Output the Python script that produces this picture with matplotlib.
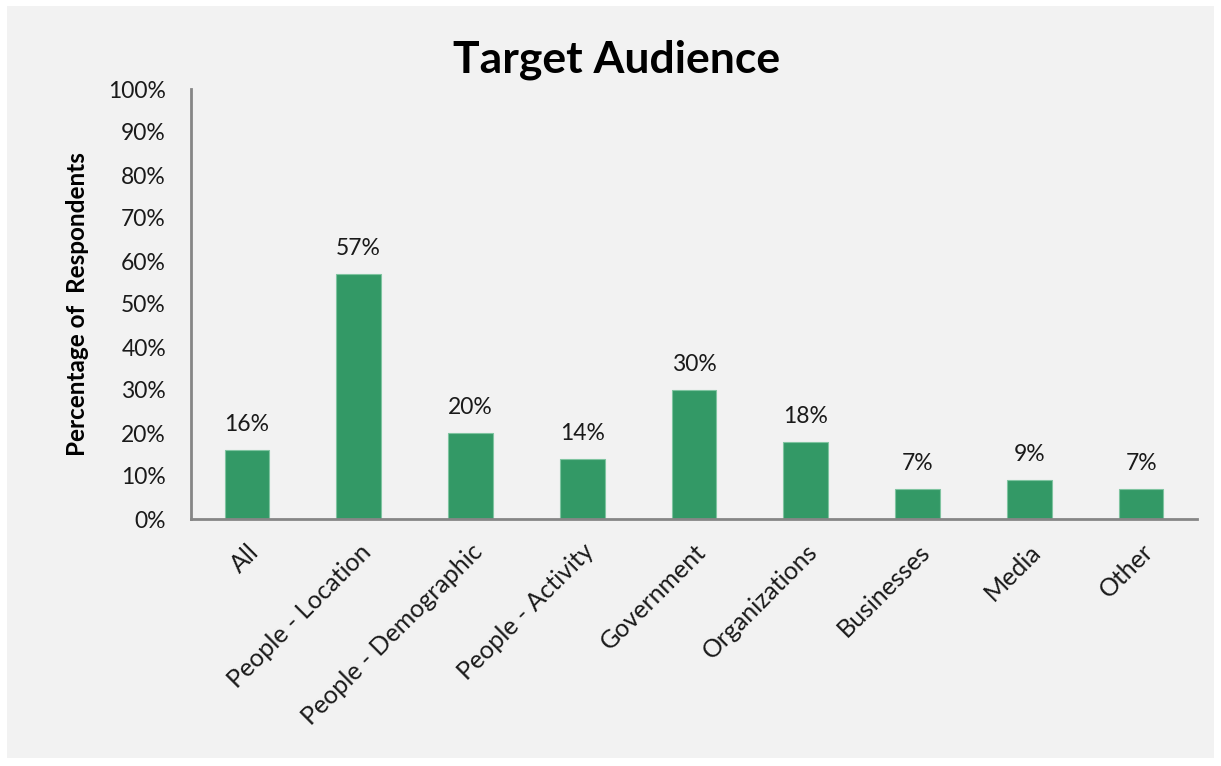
import matplotlib
matplotlib.use("Agg")
import matplotlib.pyplot as plt
from matplotlib.patches import Rectangle
from matplotlib.ticker import FuncFormatter, MultipleLocator

matplotlib.rcParams['font.family'] = ['Lato', 'DejaVu Sans']

categories = ["All", "People - Location", "People - Demographic", "People - Activity",
              "Government", "Organizations", "Businesses", "Media", "Other"]
values = [16, 57, 20, 14, 30, 18, 7, 9, 7]

bar_color = "#339966"
panel_color = "#f2f2f2"
axis_color = "#868686"

fig = plt.figure(figsize=(12.21, 7.66), dpi=100)
fig.patch.set_facecolor("white")

# grey chart area inside a thin white margin
W, H = 1221, 766
fig.patches.append(Rectangle((7 / W, (H - 758) / H), (1214 - 7) / W, (758 - 6) / H,
                             transform=fig.transFigure, facecolor=panel_color,
                             edgecolor="none", zorder=-5))

ax = fig.add_axes([191 / W, (H - 519) / H, (1197 - 191) / W, (519 - 89) / H])
ax.set_facecolor("none")

x = range(len(categories))
ax.bar(x, values, width=0.4, color=bar_color, edgecolor="#7fc4a0", linewidth=0.8, zorder=2)

for xi, v in zip(x, values):
    ax.text(xi, v + 3.5, f"{v}%", ha="center", va="bottom", fontsize=16.5, color="#1a1a1a")

ax.set_xlim(-0.5, len(categories) - 0.5)
ax.set_ylim(0, 100)
ax.yaxis.set_major_locator(MultipleLocator(10))
ax.yaxis.set_major_formatter(FuncFormatter(lambda v, _: f"{int(v)}%"))

ax.set_xticks(list(x))
ax.set_xticklabels(categories, rotation=45, ha="right", rotation_mode="anchor")
ax.tick_params(axis="both", length=0, colors="#1a1a1a")
ax.tick_params(axis="x", pad=15, labelsize=18)
ax.tick_params(axis="y", pad=18, labelsize=16.5)

for side in ["top", "right"]:
    ax.spines[side].set_visible(False)
for side in ["left", "bottom"]:
    ax.spines[side].set_color(axis_color)
    ax.spines[side].set_linewidth(2)

ax.set_ylabel("Percentage of  Respondents", fontsize=17.5, fontweight="bold", labelpad=14)
fig.text(617 / W, (H - 60) / H, "Target Audience", ha="center", va="center",
         fontsize=32, fontweight="bold", color="black")

fig.savefig("out.png", dpi=100, facecolor=fig.get_facecolor())
